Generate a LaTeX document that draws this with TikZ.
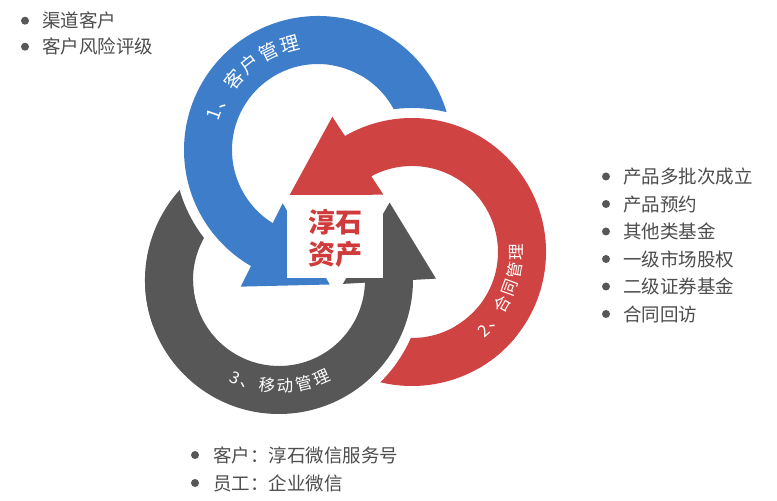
\documentclass[tikz,border=0pt]{standalone}
\usepackage{fontspec}
\newfontfamily\cjk{Noto Sans CJK SC}
\definecolor{cblue}{HTML}{3D7DCA}
\definecolor{cred}{HTML}{D04343}
\definecolor{cgray}{HTML}{575757}
\definecolor{ctxt}{HTML}{4D4D4D}
\definecolor{clogo}{HTML}{D03A3A}
% #1 centre, #2 rotation, #3 colour, #4 centre of the ring that covers the tail
\newcommand\ringarrow[4]{%
  \begin{scope}
    \clip (-10,-10) -- (-10,520) -- (790,520) -- (790,-10) -- cycle
          (#4) ++(144,0) arc[start angle=0,end angle=360,radius=144];
    \fill[#3,shift={(#1)},rotate=#2] (230:134) arc[start angle=230,end angle=320,radius=134]
        -- (320:86) arc[start angle=320,end angle=230,radius=86] -- cycle;
  \end{scope}
  \fill[#3,shift={(#1)},rotate=#2] (300:134) arc[start angle=300,end angle=481,radius=134]
      -- (481:86) arc[start angle=481,end angle=300,radius=86] -- cycle;
  \fill[#3,shift={(#1)},rotate=#2] (116.5:64) -- (120.5:157) -- (155:135) -- cycle;
}
\begin{document}
\begin{tikzpicture}[x=1pt,y=1pt,
  arclbl/.style={font=\cjk\fontsize{16.5}{16.5}\selectfont,text=white,inner sep=0pt,
    execute at begin node={\vphantom{客}}},
  arclblb/.style={arclbl,font=\cjk\fontsize{19}{19}\selectfont},
  bul/.style={circle,fill=cgray,minimum size=8pt,inner sep=0pt},
  item/.style={anchor=west,font=\cjk\fontsize{18.5}{18.5}\selectfont,text=ctxt,inner sep=0pt,
    execute at begin node={\vphantom{客}}}]
\useasboundingbox (0,0) rectangle (777,501);
\fill[white] (0,0) rectangle (777,501);
\coordinate (cb) at (318,351);
\coordinate (cr) at (412,249);
\coordinate (cg) at (279,221);

\ringarrow{cr}{0}{cred}{cg}
\ringarrow{cb}{120}{cblue}{cr}
\ringarrow{cg}{240}{cgray}{cb}

% centre box
\node[fill=white,minimum width=96pt,minimum height=80pt,inner sep=0pt] (box) at (335,263) {};
\node[font=\cjk\bfseries\fontsize{27}{32}\selectfont,text=clogo,align=center,inner sep=0pt] (logo) at (335,263) {淳石\\资产};

% arc labels
\begin{scope}[shift={(cb)}]
\node[arclblb,rotate=71.1] (b1) at (161.1:111) {1};
\node[arclblb,rotate=61.9] (b2) at (151.9:110) {、};
\node[arclblb,rotate=50.1] (b3) at (140.1:110) {客};
\node[arclblb,rotate=38.3] (b4) at (128.3:110) {户};
\node[arclblb,rotate=26.5] (b5) at (116.5:110) {管};
\node[arclblb,rotate=14.7] (b6) at (104.7:110) {理};
\end{scope}
\begin{scope}[shift={(cr)}]
\node[arclbl,rotate=42.2] (r1) at (-47.8:106) {2};
\node[arclbl,rotate=50] (r2) at (-40:104) {、};
\node[arclbl,rotate=60] (r3) at (-30:104) {合};
\node[arclbl,rotate=70] (r4) at (-20:104) {同};
\node[arclbl,rotate=80] (r5) at (-10:104) {管};
\node[arclbl,rotate=90] (r6) at (0:104) {理};
\end{scope}
\begin{scope}[shift={(cg)}]
\node[arclbl,rotate=335.8] (g1) at (245.8:107) {3};
\node[arclbl,rotate=343.6] (g2) at (253.6:106) {、};
\node[arclbl,rotate=353.6] (g3) at (263.6:106) {移};
\node[arclbl,rotate=3.6] (g4) at (273.6:106) {动};
\node[arclbl,rotate=13.6] (g5) at (283.6:106) {管};
\node[arclbl,rotate=23.6] (g6) at (293.6:106) {理};
\end{scope}

% top-left list
\node[bul] (tb1) at (25,480.3) {};
\node[item] (tt1) at (42,480.3) {渠道客户};
\node[bul] (tb2) at (25,454.3) {};
\node[item] (tt2) at (42,454.3) {客户风险评级};

% right list
\node[bul] (rb1) at (606,324.5) {};
\node[item] (rt1) at (623,324.5) {产品多批次成立};
\node[bul] (rb2) at (606,297) {};
\node[item] (rt2) at (623,297) {产品预约};
\node[bul] (rb3) at (606,269.5) {};
\node[item] (rt3) at (623,269.5) {其他类基金};
\node[bul] (rb4) at (606,242) {};
\node[item] (rt4) at (623,242) {一级市场股权};
\node[bul] (rb5) at (606,214.5) {};
\node[item] (rt5) at (623,214.5) {二级证券基金};
\node[bul] (rb6) at (606,187) {};
\node[item] (rt6) at (623,187) {合同回访};

% bottom list
\node[bul] (bb1) at (195,46) {};
\node[item] (bt1) at (213,46) {客户：淳石微信服务号};
\node[bul] (bb2) at (195,18) {};
\node[item] (bt2) at (213,18) {员工：企业微信};
\end{tikzpicture}
\end{document}
